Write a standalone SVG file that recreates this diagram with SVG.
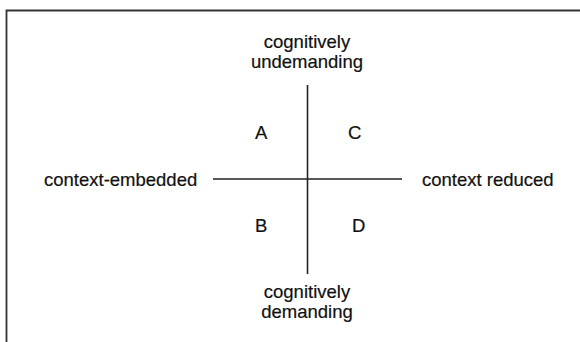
<svg xmlns="http://www.w3.org/2000/svg" width="580" height="342" viewBox="0 0 580 342">
<style>
.t{font-family:"Liberation Sans",Arial,Helvetica,sans-serif;font-size:18.5px;fill:#111;stroke:#111;stroke-width:0.2}
.m{text-anchor:middle}
.ax{stroke:#222;stroke-width:1.6;fill:none}
.frame{stroke:#333;stroke-width:1.8;fill:none}
</style>
<rect width="580" height="342" fill="#fff"/>
<path class="frame" d="M6.5,342 V10.5 H580"/>
<g id="connectors">
<line class="ax" x1="307.5" y1="85" x2="307.5" y2="274"/>
<line class="ax" x1="213" y1="179" x2="402" y2="179"/>
</g>
<g id="top"><text class="t m" x="307" y="47.5">cognitively</text><text class="t m" x="307" y="67.5">undemanding</text></g>
<g id="bottom"><text class="t m" x="307" y="297.5">cognitively</text><text class="t m" x="307" y="317.5">demanding</text></g>
<g id="left"><text class="t" x="44" y="186">context-embedded</text></g>
<g id="right"><text class="t" x="422" y="186">context reduced</text></g>
<g id="qA"><text class="t" x="255" y="139">A</text></g>
<g id="qC"><text class="t" x="348" y="139">C</text></g>
<g id="qB"><text class="t" x="255" y="232">B</text></g>
<g id="qD"><text class="t" x="352" y="232">D</text></g>
</svg>
